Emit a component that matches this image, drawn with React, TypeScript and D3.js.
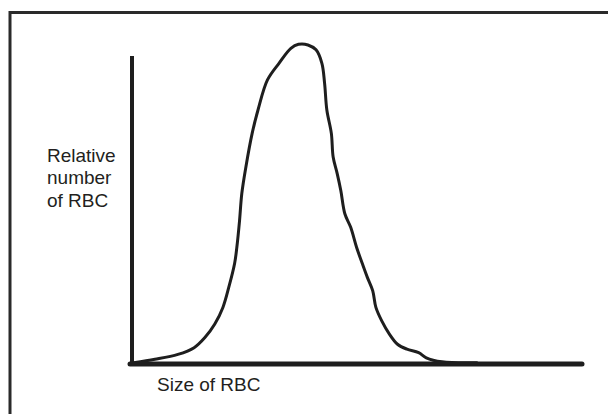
import React from "react";
import * as d3 from "d3";

const sizeValues = [0.4, 5.1, 10.2, 13.8, 16.2, 18.4, 20.2, 21.5, 22.8, 23.3, 23.9, 24.4, 25.3, 26.7, 28.0, 30.1, 32.7, 35.3, 37.0, 39.1, 40.9, 42.2, 42.8, 43.3, 44.3, 44.7, 45.6, 46.4, 47.3, 48.6, 49.9, 51.2, 52.3, 53.5, 54.2, 55.5, 57.2, 59.0, 61.1, 63.7, 65.4, 68.9, 76.6];
const countValues = [0.1, 1.2, 2.8, 5.0, 8.3, 12.7, 18.1, 24.6, 32.4, 37.7, 46.4, 55.2, 63.8, 74.8, 82.4, 92.2, 97.7, 102.5, 103.8, 103.6, 102.0, 97.6, 91.1, 82.4, 74.8, 67.1, 61.7, 56.2, 48.6, 44.2, 37.7, 32.3, 27.9, 23.5, 18.1, 13.7, 9.4, 6.1, 4.5, 3.4, 1.7, 0.4, 0.1];
const yLabelLines = ["Relative", "number", "of RBC"];
const xLabel = "Size of RBC";

export default function App() {
  const W = 608, H = 414;
  const x = d3.scaleLinear().domain([0, 100]).range([132, 582]);
  const y = d3.scaleLinear().domain([0, 100]).range([363, 56]);
  const pts: [number, number][] = sizeValues.map((s, i) => [s, countValues[i]]);
  const line = d3.line<[number, number]>()
    .x(d => x(d[0]))
    .y(d => y(d[1]))
    .curve(d3.curveCatmullRom.alpha(0.5));
  const ink = "#1e1e1e";
  const font = "'Liberation Sans', Arial, Helvetica, sans-serif";
  return (
    <svg width={W} height={H} style={{ position: "absolute", left: 0, top: 0, background: "#fff" }}>
      <rect x={0} y={0} width={W} height={H} fill="#fff" />
      {/* frame (left and top edges visible) */}
      <path d={`M10,${H + 5} L10,12.5 L${W + 5},12.5`} fill="none" stroke="#2a2a2a" strokeWidth={3} />
      {/* curve */}
      <path d={line(pts) || ""} fill="none" stroke={ink} strokeWidth={3} strokeLinejoin="round" strokeLinecap="round" />
      {/* axes */}
      <line x1={x(0)} y1={y(100)} x2={x(0)} y2={y(0) + 2} stroke={ink} strokeWidth={4} />
      <line x1={x(0) - 2} y1={y(0) + 1} x2={x(100)} y2={y(0) + 1} stroke={ink} strokeWidth={5} strokeLinecap="round" />
      {/* labels */}
      <text x={47} y={161.5} fontFamily={font} fontSize={19} fill="#231f20">
        {yLabelLines.map((t, i) => (
          <tspan key={i} x={47} dy={i === 0 ? 0 : 22.5}>{t}</tspan>
        ))}
      </text>
      <text x={157} y={391} fontFamily={font} fontSize={19} fill="#231f20">{xLabel}</text>
    </svg>
  );
}
